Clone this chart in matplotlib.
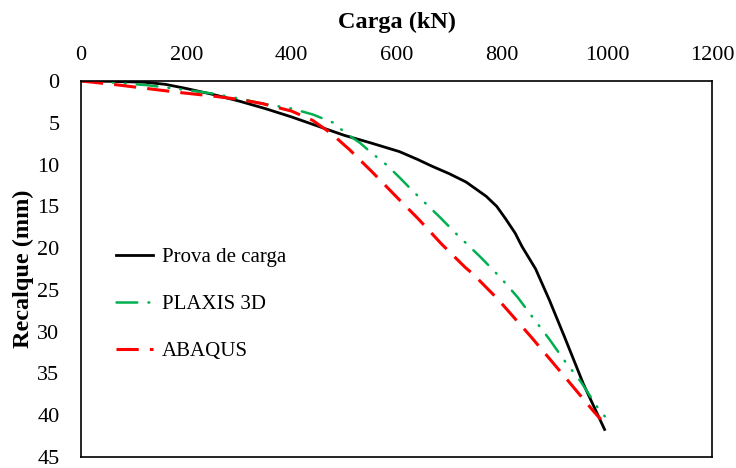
import matplotlib
matplotlib.use("Agg")
import matplotlib.pyplot as plt

# ─── DATA ────────────────────────────────────────────────
prova_x = [0, 60, 120, 160, 200, 250, 300, 350, 400, 450, 500, 550, 605, 640,
           667, 700, 732, 770, 790, 807, 825, 838, 864, 890, 920, 955, 995]
prova_y = [0, 0.05, 0.15, 0.4, 0.9, 1.6, 2.4, 3.3, 4.3, 5.4, 6.5, 7.4, 8.45, 9.4,
           10.2, 11.1, 12.1, 13.8, 15.0, 16.5, 18.2, 19.8, 22.5, 26.2, 30.8, 36.3, 41.7]

plaxis_x = [0, 60, 125, 190, 250, 300, 344, 400, 440, 480, 502, 530, 552, 580,
            603, 631, 682, 710, 758, 786, 801, 830, 855, 890, 918, 950, 981, 1000]
plaxis_y = [0, 0.2, 0.5, 1.0, 1.5, 2.1, 2.7, 3.3, 4.0, 5.0, 6.2, 7.4, 8.6, 10.0,
            11.4, 13.2, 16.3, 18.1, 21.0, 22.8, 23.8, 25.9, 28.0, 30.9, 33.4, 36.0, 39.0, 40.5]

abaqus_x = [0, 60, 125, 190, 250, 300, 344, 400, 440, 476, 510, 552, 600, 641,
            685, 730, 745, 792, 855, 918, 975, 988]
abaqus_y = [0, 0.4, 0.9, 1.4, 1.8, 2.2, 2.7, 3.6, 4.7, 6.3, 8.2, 10.8, 13.9, 16.5,
            19.5, 22.3, 23.1, 26.1, 30.6, 35.3, 39.6, 40.5]

x_ticks = [0, 200, 400, 600, 800, 1000, 1200]
y_ticks = [0, 5, 10, 15, 20, 25, 30, 35, 40, 45]

# ─── STYLE ───────────────────────────────────────────────
plt.rcParams.update({
    "font.family": ["Liberation Serif", "DejaVu Serif"],
    "font.size": 15,
    "lines.scale_dashes": False,
})

fig = plt.figure(figsize=(7.36, 4.68), dpi=100)
ax = fig.add_axes([0.110, 0.0235, 0.858, 0.8035])

ax.plot(prova_x, prova_y, color="black", lw=2.0, label="Prova de carga")
ax.plot(plaxis_x, plaxis_y, color="#00B050", lw=1.8,
        linestyle=(0, (15, 8, 0.6, 8, 0.6, 8)), dash_capstyle="round",
        label="PLAXIS 3D")
ax.plot(abaqus_x, abaqus_y, color="#FF0000", lw=2.2,
        linestyle=(0, (16, 8)), label="ABAQUS")

ax.set_xlim(0, 1200)
ax.set_ylim(45, 0)
ax.set_xticks(x_ticks)
ax.set_yticks(y_ticks)
ax.xaxis.tick_top()
ax.xaxis.set_label_position("top")
ax.tick_params(length=0, labelsize=16)
ax.tick_params(axis="x", pad=11.5)
ax.tick_params(axis="y", pad=15.5)

ax.set_xlabel("Carga (kN)", fontweight="bold", fontsize=17.5, labelpad=13)
ax.set_ylabel("Recalque (mm)", fontweight="bold", fontsize=17.5, labelpad=2.5)

for s in ax.spines.values():
    s.set_color("black")
    s.set_linewidth(1.2)

ax.legend(loc="upper left", bbox_to_anchor=(0.055, 0.557), frameon=False,
          borderpad=0, borderaxespad=0, handlelength=1.8, handletextpad=0.4,
          labelspacing=1.32, fontsize=15)

fig.savefig("out.png", dpi=100, facecolor="white")
